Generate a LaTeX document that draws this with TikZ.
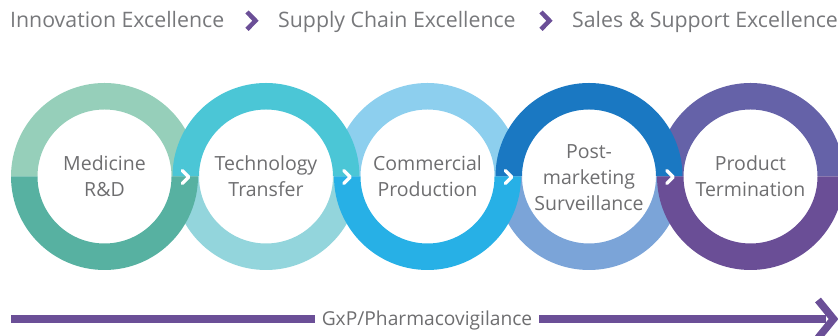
\documentclass[tikz,border=0pt]{standalone}
\usepackage{fontspec}
\setmainfont{Open Sans}
\definecolor{cAt}{HTML}{96CFBA}
\definecolor{cAb}{HTML}{57B1A1}
\definecolor{cBt}{HTML}{4BC6D6}
\definecolor{cBb}{HTML}{93D5DC}
\definecolor{cCt}{HTML}{8DCFEE}
\definecolor{cCb}{HTML}{27B0E6}
\definecolor{cDt}{HTML}{1A78C2}
\definecolor{cDb}{HTML}{7BA4D8}
\definecolor{cEt}{HTML}{6562A8}
\definecolor{cEb}{HTML}{6A4E96}
\definecolor{arrowpurple}{HTML}{6B4F97}
\definecolor{txtgray}{HTML}{6E6E70}
\definecolor{headgray}{HTML}{77787B}
\begin{document}
\begin{tikzpicture}[x=1pt,y=1pt,
  headtxt/.style={text=headgray,font=\fontsize{21.3}{25}\selectfont,inner sep=0pt,anchor=base west},
  headchev/.style={draw=arrowpurple,line width=4.5pt,line join=miter},
  circtxt/.style={text=txtgray,font=\fontsize{19.5}{26}\selectfont,align=center,inner sep=0pt,anchor=base},
  whitechev/.style={draw=white,line width=3.5pt,line cap=round,line join=round},
  pbar/.style={draw=arrowpurple,line width=7.5pt},
  gxptxt/.style={text=txtgray,font=\fontsize{19.2}{22}\selectfont,inner xsep=7pt,inner ysep=0pt,anchor=base}
]
\useasboundingbox (0,0) rectangle (838,336);
\clip (0,0) rectangle (838,336);
\def\R{93.5}
\def\r{67}
\def\cy{159.5}
% top halves of odd rings
\foreach \cx/\col in {104.5/cAt,427.5/cCt,750.5/cEt}
  \fill[\col] (\cx+\R,\cy) arc[start angle=0,end angle=180,radius=\R]
    -- (\cx-\r,\cy) arc[start angle=180,end angle=0,radius=\r] -- cycle;
% top halves of even rings (in front)
\foreach \cx/\col in {266/cBt,589/cDt}
  \fill[\col] (\cx+\R,\cy) arc[start angle=0,end angle=180,radius=\R]
    -- (\cx-\r,\cy) arc[start angle=180,end angle=0,radius=\r] -- cycle;
% bottom halves of even rings
\foreach \cx/\col in {266/cBb,589/cDb}
  \fill[\col] (\cx+\R,\cy) arc[start angle=0,end angle=-180,radius=\R]
    -- (\cx-\r,\cy) arc[start angle=180,end angle=360,radius=\r] -- cycle;
% bottom halves of odd rings (in front)
\foreach \cx/\col in {104.5/cAb,427.5/cCb,750.5/cEb}
  \fill[\col] (\cx+\R,\cy) arc[start angle=0,end angle=-180,radius=\R]
    -- (\cx-\r,\cy) arc[start angle=180,end angle=360,radius=\r] -- cycle;
% white chevrons
\foreach \m in {185.25,346.75,508.25,669.75}
  \draw[whitechev] (\m-3,165.5) -- (\m+3.5,159) -- (\m-3,152.5);
% circle labels (base anchor = last line baseline)
\node[circtxt] (l1) at (104.5,139.3) {Medicine\\R\&D};
\node[circtxt] (l2) at (266,139.3) {Technology\\Transfer};
\node[circtxt] (l3) at (427.5,139.3) {Commercial\\Production};
\node[circtxt] (l4) at (589,125) {Post-\\marketing\\Surveillance};
\node[circtxt] (l5) at (750.5,139.3) {Product\\Termination};
% header
\node[headtxt] (h1) at (10,308) {Innovation Excellence};
\node[headtxt] (h2) at (278,308) {Supply Chain Excellence};
\node[headtxt] (h3) at (572,308) {Sales \& Support Excellence};
\draw[headchev] (247,324) -- (255.5,315.3) -- (247,306.6);
\draw[headchev] (541,324) -- (549.5,315.3) -- (541,306.6);
% bottom arrow
\node[gxptxt] (gxp) at (427,10) {GxP/Pharmacovigilance};
\coordinate (barL) at (11,17);
\coordinate (barR) at (826,17);
\draw[pbar] (barL) -- (barL -| gxp.west);
\draw[pbar] (gxp.east |- barR) -- (barR);
\draw[pbar,line join=miter] (818,36) -- (833.5,17) -- (818,-2);
\end{tikzpicture}
\end{document}
